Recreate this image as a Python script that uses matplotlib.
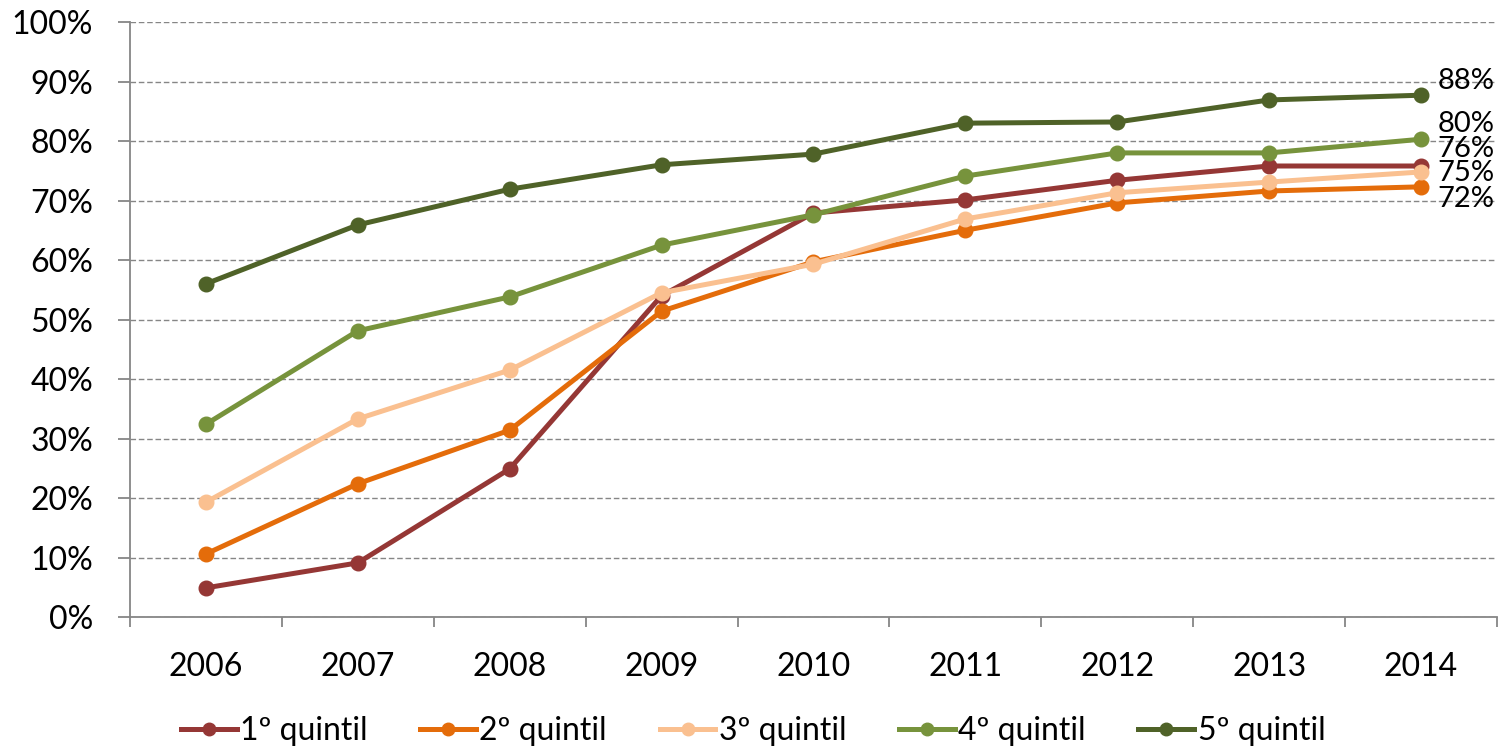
import numpy as np
import matplotlib
matplotlib.use("Agg")
import matplotlib.pyplot as plt
from matplotlib.ticker import FuncFormatter, FixedLocator

plt.rcParams['font.family'] = ['Lato', 'DejaVu Sans']

years = ["2006", "2007", "2008", "2009", "2010", "2011", "2012", "2013", "2014"]
series_names = ["1º quintil", "2º quintil", "3º quintil", "4º quintil", "5º quintil"]

q1 = [4.9, 9.1, 24.9, 54.0, 67.9, 70.1, 73.4, 75.8, 75.8]
q2 = [10.6, 22.4, 31.4, 51.4, 59.7, 65.0, 69.6, 71.6, 72.3]
q3 = [19.3, 33.3, 41.5, 54.5, 59.3, 66.9, 71.3, 73.1, 74.8]
q4 = [32.4, 48.1, 53.8, 62.5, 67.6, 74.1, 78.0, 78.0, 80.3]
q5 = [56.0, 65.9, 71.9, 76.0, 77.8, 83.0, 83.2, 86.9, 87.7]
end_labels = ["76%", "72%", "75%", "80%", "88%"]

colors = ["#953735", "#E46C0A", "#FAC090", "#77933C", "#4F6228"]
# label offsets (points) for the 2014 data labels
label_offsets = [(12, 12), (12, -9), (12, -1), (12, 11), (12, 10)]

fig = plt.figure(figsize=(15.06, 7.51), dpi=100)
ax = fig.add_axes([0.0863, 0.1784, 0.9077, 0.7923])

x = np.arange(len(years))
for vals, name, c, lab, off in zip([q1, q2, q3, q4, q5], series_names, colors, end_labels, label_offsets):
    ax.plot(x, vals, color=c, lw=3.6, marker='o', markersize=10.5, label=name, zorder=3)
    ax.annotate(lab, (x[-1], vals[-1]), xytext=off, textcoords='offset points',
                ha='left', va='center', fontsize=21, color='black')

ax.set_xlim(-0.5, len(years) - 0.5)
ax.set_ylim(0, 100)
ax.set_yticks(np.arange(0, 101, 10))
ax.yaxis.set_major_formatter(FuncFormatter(lambda v, p: f"{int(v)}%"))
ax.grid(axis='y', color='#868686', linestyle=(0, (4, 2)), lw=1)
ax.set_axisbelow(True)

ax.set_xticks(x)
ax.set_xticklabels(years)
ax.xaxis.set_minor_locator(FixedLocator(np.arange(-0.5, len(years), 1)))
ax.tick_params(axis='x', which='major', length=0, pad=25, labelsize=23)
ax.tick_params(axis='x', which='minor', length=7, color='#868686', width=1.3)
ax.tick_params(axis='y', length=8.6, color='#868686', width=1.3, labelsize=23, pad=18)

for s in ['top', 'right']:
    ax.spines[s].set_visible(False)
for s in ['left', 'bottom']:
    ax.spines[s].set_color('#868686')
    ax.spines[s].set_linewidth(1.3)

leg = fig.legend(loc='lower center', bbox_to_anchor=(0.5, -0.032), ncol=5, frameon=False,
                 fontsize=23, handlelength=1.75, handletextpad=0.1, columnspacing=1.65)
for h in leg.get_lines():
    h.set_markersize(9)

fig.savefig("out.png", dpi=100)
